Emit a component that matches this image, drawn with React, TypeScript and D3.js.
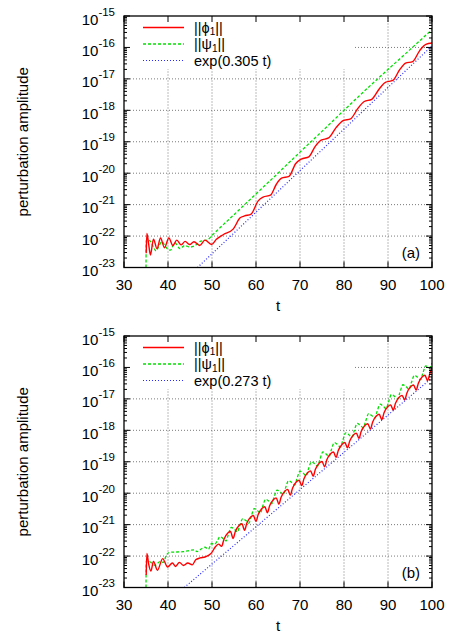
import React from 'react';
import * as d3 from 'd3';

// ---------- data (t, log10 amplitude) ----------
const tTicks = [30, 40, 50, 60, 70, 80, 90, 100];
const decadeExps = [-23, -22, -21, -20, -19, -18, -17, -16, -15];

const phiA: [number, number][] = [
  [35.05, -22.55], [35.2, -21.92], [35.6, -22.25], [36.0, -22.6], [36.7, -22.1], [37.5, -22.4],
  [38.3, -22.06], [39.2, -22.37], [40.2, -22.06], [41.1, -22.3], [42.0, -22.13], [43.0, -22.28],
  [43.9, -22.17], [44.9, -22.27], [45.9, -22.18], [47.2, -22.3], [48.4, -22.13], [49.9, -22.27],
  [51.0, -22.1], [52.6, -21.95], [54.8, -21.78], [56.4, -21.42], [57.4, -21.36], [58.9, -21.3],
  [60.5, -20.88], [61.6, -20.76], [63.3, -20.7], [64.6, -20.36], [65.8, -20.16], [67.5, -20.1],
  [69.0, -19.7], [70.3, -19.55], [72.0, -19.48], [73.5, -19.14], [74.8, -18.95], [76.5, -18.88],
  [78.2, -18.55], [79.8, -18.33], [81.5, -18.27], [83.2, -17.93], [84.6, -17.72], [86.3, -17.65],
  [88.0, -17.32], [89.4, -17.11], [91.1, -17.05], [92.7, -16.7], [94.0, -16.5], [95.6, -16.45],
  [97.2, -16.1], [98.6, -15.9], [100, -15.86],
];

const psiA: [number, number][] = [
  [35.0, -23.0], [35.05, -22.13], [35.9, -22.15], [36.5, -22.3], [37.3, -22.47], [38.0, -22.3],
  [38.6, -22.18], [39.5, -22.35], [40.5, -22.45], [41.6, -22.22], [42.7, -22.4], [43.8, -22.3],
  [45.0, -22.35], [46.2, -22.3], [47.3, -22.17], [48.3, -22.14], [49.0, -22.12], [50, -21.98],
  [55, -21.32], [60, -20.66], [65, -20.0], [70, -19.33], [75, -18.67], [80, -18.0], [85, -17.34],
  [90, -16.7], [95, -16.07], [100, -15.43],
];

const fitA: [number, number][] = [[46.7, -23.0], [100, -15.95]];

const phiB: [number, number][] = [
  [35.05, -22.6], [35.2, -21.92], [35.6, -22.25], [36.1, -22.48], [36.7, -22.17], [37.6, -22.45],
  [38.8, -22.08], [39.9, -22.35], [41.0, -22.22], [41.7, -22.33], [42.6, -22.2], [43.5, -22.3],
  [44.5, -22.22], [45.5, -22.28], [46.3, -22.12], [47.3, -22.06], [48.4, -22.03], [49.2, -21.98],
  [49.9, -21.9], [50.7, -21.72], [51.5, -21.62],
  [52.2, -21.69], [52.7, -21.47], [53.6, -21.27], [54.2, -21.22],
  [54.8, -21.44], [55.3, -21.22], [56.2, -21.02], [56.8, -20.97],
  [57.4, -21.18], [57.9, -20.96], [58.8, -20.76], [59.4, -20.71],
  [60.0, -20.9], [60.5, -20.68], [61.4, -20.48], [62.0, -20.43],
  [62.6, -20.62], [63.1, -20.4], [64.0, -20.2], [64.6, -20.15],
  [65.2, -20.35], [65.7, -20.13], [66.6, -19.93], [67.2, -19.88],
  [67.8, -20.06], [68.3, -19.84], [69.2, -19.64], [69.8, -19.59],
  [70.4, -19.76], [70.9, -19.54], [71.8, -19.34], [72.4, -19.29],
  [73.0, -19.46], [73.5, -19.24], [74.4, -19.04], [75.0, -18.99],
  [75.6, -19.16], [76.1, -18.94], [77.0, -18.74], [77.6, -18.69],
  [78.2, -18.86], [78.7, -18.64], [79.6, -18.44], [80.2, -18.39],
  [80.8, -18.56], [81.3, -18.34], [82.2, -18.14], [82.8, -18.09],
  [83.4, -18.26], [83.9, -18.04], [84.8, -17.84], [85.4, -17.79],
  [86.0, -17.96], [86.5, -17.74], [87.4, -17.54], [88.0, -17.49],
  [88.6, -17.66], [89.1, -17.44], [90.0, -17.24], [90.6, -17.19],
  [91.2, -17.36], [91.7, -17.14], [92.6, -16.94], [93.2, -16.89],
  [93.8, -17.03], [94.3, -16.81], [95.2, -16.61], [95.8, -16.56],
  [96.4, -16.72], [96.9, -16.5], [97.8, -16.3], [98.4, -16.25],
  [99.0, -16.42], [99.5, -16.2], [100, -16.02],
];

const psiB: [number, number][] = [
  [35.0, -23.0], [35.05, -22.15], [35.9, -22.18], [37.0, -22.29], [38.2, -22.18], [38.9, -22.2],
  [39.7, -21.95], [40.5, -21.88], [42.0, -21.87], [43.5, -21.86], [45.0, -21.82], [46.0, -21.8],
  [46.6, -21.86], [47.7, -21.76], [48.4, -21.72], [49.2, -21.78], [49.9, -21.6], [50.6, -21.62],
  [51.2, -21.52],
  [51.8, -21.38], [52.5, -21.44], [53.2, -21.52], [53.7, -21.32],
  [54.4, -21.09], [55.1, -21.15], [55.8, -21.23], [56.3, -21.03],
  [57.0, -20.81], [57.7, -20.87], [58.4, -20.95], [58.9, -20.75],
  [59.6, -20.49], [60.3, -20.55], [61.0, -20.63], [61.5, -20.43],
  [62.2, -20.19], [62.9, -20.25], [63.6, -20.33], [64.1, -20.13],
  [64.8, -19.9], [65.5, -19.96], [66.2, -20.04], [66.7, -19.84],
  [67.4, -19.6], [68.1, -19.66], [68.8, -19.74], [69.3, -19.54],
  [70.0, -19.3], [70.7, -19.36], [71.4, -19.44], [71.9, -19.24],
  [72.6, -19.0], [73.3, -19.06], [74.0, -19.14], [74.5, -18.94],
  [75.2, -18.69], [75.9, -18.75], [76.6, -18.83], [77.1, -18.63],
  [77.8, -18.39], [78.5, -18.45], [79.2, -18.53], [79.7, -18.33],
  [80.4, -18.08], [81.1, -18.14], [81.8, -18.22], [82.3, -18.02],
  [83.0, -17.78], [83.7, -17.84], [84.4, -17.92], [84.9, -17.72],
  [85.6, -17.47], [86.3, -17.53], [87.0, -17.61], [87.5, -17.41],
  [88.2, -17.17], [88.9, -17.23], [89.6, -17.31], [90.1, -17.11],
  [90.8, -16.86], [91.5, -16.92], [92.2, -17.0], [92.7, -16.8],
  [93.4, -16.55], [94.1, -16.61], [94.8, -16.69], [95.3, -16.49],
  [96.0, -16.25], [96.7, -16.31], [97.4, -16.39], [97.9, -16.19],
  [98.6, -15.95], [99.4, -16.02], [100, -15.86],
];

const fitB: [number, number][] = [[43.7, -23.0], [100, -16.33]];

const panels = [
  { id: 'a', phi: phiA, psi: psiA, fit: fitA, fitLabel: 'exp(0.305 t)', tag: '(a)' },
  { id: 'b', phi: phiB, psi: psiB, fit: fitB, fitLabel: 'exp(0.273 t)', tag: '(b)' },
];

const FONT = "'Liberation Sans', Arial, Helvetica, sans-serif";
const L = 124, R = 432, T = 16, B = 267.5;

function Panel({ p, offsetY }: { p: typeof panels[number]; offsetY: number }) {
  const x = d3.scaleLinear().domain([30, 100]).range([L, R]);
  const y = d3.scaleLog().domain([1e-23, 1e-15]).range([B, T]);
  const line = d3
    .line<[number, number]>()
    .x((d) => x(d[0]))
    .y((d) => y(Math.pow(10, d[1])))
    .curve(d3.curveMonotoneX);
  const straight = d3
    .line<[number, number]>()
    .x((d) => x(d[0]))
    .y((d) => y(Math.pow(10, d[1])));
  const clipId = 'clip-' + p.id;
  const minor: number[] = [];
  decadeExps.slice(0, -1).forEach((e) => {
    for (let m = 2; m <= 9; m++) minor.push(m * Math.pow(10, e));
  });
  const gridStyle = { stroke: '#7a7a7a', strokeWidth: 1, strokeDasharray: '1,2' };
  const legendRows = [
    { color: '#ff0000', dash: undefined as string | undefined, w: 1.4 },
    { color: '#00e000', dash: '3,2', w: 1.3 },
    { color: '#2a2aff', dash: '1,2', w: 1.2 },
  ];
  const rowY = [27.5, 44, 60.5];
  return (
    <g transform={`translate(0,${offsetY})`} fontFamily={FONT}>
      <defs>
        <clipPath id={clipId}>
          <rect x={L} y={T} width={R - L} height={B - T} />
        </clipPath>
      </defs>
      {tTicks.slice(1, -1).map((t) => (
        <line key={'gx' + t} x1={x(t)} x2={x(t)} y1={B} y2={T} style={gridStyle} />
      ))}
      {decadeExps.slice(1, -1).map((e) => (
        <line key={'gy' + e} x1={L} x2={R} y1={y(Math.pow(10, e))} y2={y(Math.pow(10, e))} style={gridStyle} />
      ))}
      <rect x={L + 0.5} y={T + 0.5} width={229} height={52.5} fill="#fff" />
      <g clipPath={`url(#${clipId})`} fill="none">
        <path d={straight(p.fit) || ''} stroke="#2a2aff" strokeWidth={1.2} strokeDasharray="1,2" />
        <path d={line(p.psi) || ''} stroke="#00e000" strokeWidth={1.3} strokeDasharray="3,2" />
        <path d={line(p.phi) || ''} stroke="#ff0000" strokeWidth={1.4} />
      </g>
      {legendRows.map((r, i) => (
        <line key={'lg' + i} x1={143} x2={184} y1={rowY[i]} y2={rowY[i]} stroke={r.color} strokeWidth={r.w} strokeDasharray={r.dash} />
      ))}
      <text x={194} y={rowY[0] + 5} fontSize={14.5}>
        ||ϕ<tspan fontSize={10} dy={2.5}>1</tspan><tspan dy={-2.5}>||</tspan>
      </text>
      <text x={194} y={rowY[1] + 5} fontSize={14.5}>
        ||ψ<tspan fontSize={10} dy={2.5}>1</tspan><tspan dy={-2.5}>||</tspan>
      </text>
      <text x={194} y={rowY[2] + 5} fontSize={14.5}>{p.fitLabel}</text>
      {tTicks.map((t) => (
        <g key={'tx' + t}>
          <line x1={x(t)} x2={x(t)} y1={B} y2={B - 6} stroke="#000" />
          <line x1={x(t)} x2={x(t)} y1={T} y2={T + 6} stroke="#000" />
          <text x={x(t)} y={B + 22} fontSize={15} textAnchor="middle">{t}</text>
        </g>
      ))}
      {decadeExps.map((e) => {
        const yy = y(Math.pow(10, e));
        return (
          <g key={'ty' + e}>
            <line x1={L} x2={L + 6} y1={yy} y2={yy} stroke="#000" />
            <line x1={R} x2={R - 6} y1={yy} y2={yy} stroke="#000" />
            <text x={L - 9} y={yy + 8.5} fontSize={15} textAnchor="end">
              10<tspan fontSize={11.5} dy={-9}>{'-' + Math.abs(e)}</tspan>
            </text>
          </g>
        );
      })}
      {minor.map((v, i) => (
        <g key={'mn' + i}>
          <line x1={L} x2={L + 3} y1={y(v)} y2={y(v)} stroke="#000" />
          <line x1={R} x2={R - 3} y1={y(v)} y2={y(v)} stroke="#000" />
        </g>
      ))}
      <rect x={L} y={T} width={R - L} height={B - T} fill="none" stroke="#000" strokeWidth={1.3} />
      <text x={420} y={258} fontSize={15} textAnchor="end">{p.tag}</text>
      <text x={(L + R) / 2} y={310.5} fontSize={15} textAnchor="middle">t</text>
      <text transform={`translate(28,${(T + B) / 2}) rotate(-90)`} fontSize={15} textAnchor="middle">
        perturbation amplitude
      </text>
    </g>
  );
}

export default function App() {
  return (
    <svg width={449} height={633} style={{ position: 'absolute', left: 0, top: 0, background: '#fff' }}>
      <rect x={0} y={0} width={449} height={633} fill="#fff" />
      {panels.map((p, i) => (
        <Panel key={p.id} p={p} offsetY={i * 320} />
      ))}
    </svg>
  );
}
